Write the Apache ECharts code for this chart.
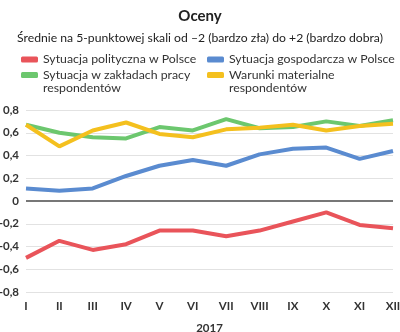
<!DOCTYPE html>
<html><head><meta charset="utf-8">
<script src="https://cdn.jsdelivr.net/npm/echarts@6/dist/echarts.min.js"></script>
<style>html,body{margin:0;padding:0;background:#fff}#c{width:400px;height:332px}</style>
</head><body><div id="c"></div>
<script>
var months = ['I','II','III','IV','V','VI','VII','VIII','IX','X','XI','XII'];
var seriesNames = ['Sytuacja polityczna w Polsce','Sytuacja gospodarcza w Polsce','Sytuacja w zakładach pracy\nrespondentów','Warunki materialne\nrespondentów'];
var political = [-0.50,-0.35,-0.43,-0.38,-0.26,-0.26,-0.31,-0.26,-0.18,-0.10,-0.21,-0.24];
var economic = [0.11,0.09,0.11,0.22,0.31,0.36,0.31,0.41,0.46,0.47,0.37,0.44];
var workplace = [0.67,0.60,0.56,0.55,0.65,0.62,0.72,0.64,0.65,0.70,0.66,0.71];
var material = [0.67,0.48,0.62,0.69,0.59,0.56,0.63,0.645,0.67,0.62,0.66,0.68];
var colors = ['#e9545a','#5a8bd0','#6cc76e','#f4c01e'];
var FONT = 'Lato';

var chart = echarts.init(document.getElementById('c'));
function mk(name, data, color){
  return {name:name,type:'line',data:data,symbol:'none',smooth:false,
    lineStyle:{width:4,color:color},itemStyle:{color:color}};
}
function lg(name, left, top, wrapped){
  return {orient:'vertical',left:left,top:top,padding:0,itemWidth:17,itemHeight:6,icon:'roundRect',
    textStyle:{fontFamily:FONT,fontSize:12.3,color:'#333',lineHeight:13},
    formatter:function(n){return wrapped ? '\n'+n : n;},
    data:[{name:name}]};
}
chart.setOption({
  animation:false,
  title:[{text:'Oceny',left:'center',top:4,textStyle:{fontFamily:FONT,fontSize:15,fontWeight:'bold',color:'#222'}},
         {text:'Średnie na 5-punktowej skali od –2 (bardzo zła) do +2 (bardzo dobra)',left:'center',top:27,
          textStyle:{fontFamily:FONT,fontSize:12.2,fontWeight:'normal',color:'#222'}}],
  legend:[
    lg(seriesNames[0],21,53,false),
    lg(seriesNames[2],21,55.5,true),
    lg(seriesNames[1],207,53,false),
    lg(seriesNames[3],207,55.5,true)
  ],
  grid:{left:26,right:7,top:110,bottom:40,containLabel:false,outerBoundsMode:'none'},
  xAxis:{type:'category',data:months,boundaryGap:false,
    axisLine:{show:false},axisTick:{show:false},
    axisLabel:{fontFamily:FONT,fontSize:11.5,fontWeight:'bold',color:'#333',margin:8,interval:0},
    name:'2017',nameLocation:'middle',nameGap:30,
    nameTextStyle:{fontFamily:FONT,fontSize:11.5,fontWeight:'bold',color:'#333'}},
  yAxis:{type:'value',min:-0.8,max:0.8,interval:0.2,
    axisLine:{show:false},axisTick:{show:false},
    splitLine:{lineStyle:{color:'#e2e2e2',width:1}},
    axisLabel:{fontFamily:FONT,fontSize:11.5,fontWeight:'bold',color:'#333',margin:7,
      formatter:function(v){var r=Math.round(v*10)/10; if(r===0) return '0'; return (r<0?'-':'')+Math.abs(r).toFixed(1).replace('.',',');}}},
  series:[
    mk(seriesNames[0],political,colors[0]),
    mk(seriesNames[1],economic,colors[1]),
    mk(seriesNames[2],workplace,colors[2]),
    mk(seriesNames[3],material,colors[3]),
    {type:'line',data:[],markLine:{silent:true,symbol:'none',label:{show:false},
      lineStyle:{color:'#777',width:2,type:'solid'},data:[{yAxis:0}]}}
  ]
});
</script></body></html>
